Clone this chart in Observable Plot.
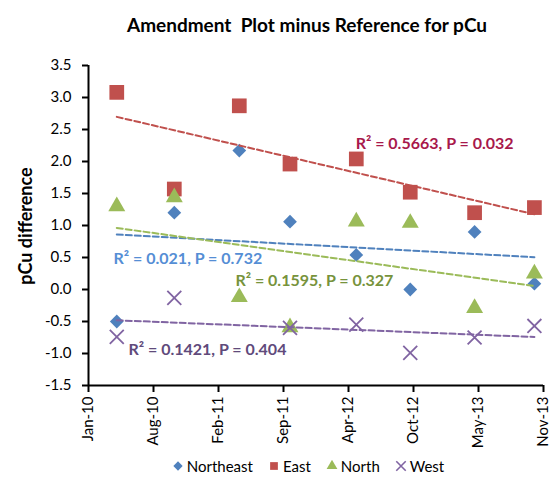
<!DOCTYPE html>
<html>
<head>
<meta charset="utf-8">
<script src="https://cdn.jsdelivr.net/npm/d3@7"></script>
<script src="https://cdn.jsdelivr.net/npm/@observablehq/plot@0.6"></script>
<style>
  html, body { margin: 0; padding: 0; background: #fff; }
  #wrap { position: relative; width: 555px; height: 496px; overflow: hidden; font-family: Lato, "Open Sans", sans-serif; }
  #title { position: absolute; left: 0; top: 13px; width: 614px; text-align: center; font-weight: bold; font-size: 19px; color: #000; z-index: 2; }
  #ylabel { position: absolute; left: 25px; top: 226px; transform: translate(-50%, -50%) rotate(-90deg); white-space: nowrap; font-weight: bold; font-size: 18px; color: #000; z-index: 2; }
  #chart { position: absolute; left: 0; top: 50px; z-index: 1; }
  #legend { position: absolute; left: 0; top: 457px; width: 616px; display: flex; justify-content: center; gap: 15px; font-size: 15px; color: #000; z-index: 2; }
  #legend span { display: inline-flex; align-items: center; gap: 3px; }
</style>
</head>
<body>
<div id="wrap">
  <div id="chart"></div>
  <div id="title">Amendment&nbsp; Plot minus Reference for pCu</div>
  <div id="ylabel">pCu difference</div>
  <div id="legend"></div>
</div>
<script>
// ---- data ----
const dates = ["2010-04-20", "2010-10-14", "2011-05-02", "2011-10-05", "2012-04-26", "2012-10-09", "2013-04-25", "2013-10-26"];
const seriesNames = ["Northeast", "East", "North", "West"];
const northeast = [-0.50, 1.20, 2.17, 1.06, 0.54, 0.00, 0.90, 0.09];
const east      = [3.08, 1.57, 2.87, 1.96, 2.04, 1.52, 1.20, 1.28];
const north     = [1.30, 1.44, -0.12, -0.59, 1.06, 1.04, -0.29, 0.25];
const west      = [-0.74, -0.13, null, -0.60, -0.55, -0.99, -0.75, -0.57];
const seriesColors = ["#4F81BD", "#C0504D", "#9BBB59", "#8064A2"];
const seriesSymbols = ["diamond2", "square", "triangle", "times"];
const statLabels = ["R\u00B2 = 0.021, P = 0.732", "R\u00B2 = 0.5663, P = 0.032", "R\u00B2 = 0.1595, P = 0.327", "R\u00B2 = 0.1421, P = 0.404"];
const statColors = ["#558ED5", "#A8184B", "#77933C", "#604A7B"];
const statDates = ["2010-04-10", "2012-04-24", "2011-04-20", "2010-05-26"];
const statValues = [0.48, 2.28, 0.14, -0.95];
const xTicks = ["2010-01-23", "2010-08-11", "2011-02-27", "2011-09-15", "2012-04-02", "2012-10-19", "2013-05-07", "2013-11-23"];
const yTicks = [-1.5, -1.0, -0.5, 0.0, 0.5, 1.0, 1.5, 2.0, 2.5, 3.0, 3.5];

// ---- build tables ----
const allValues = [northeast, east, north, west];
const rows = [];
allValues.forEach((vals, s) => vals.forEach((v, i) => {
  if (v != null) rows.push({series: seriesNames[s], date: new Date(dates[i]), value: v});
}));

// least-squares trend lines from the data
const trendRows = [];
seriesNames.forEach((name) => {
  const pts = rows.filter(d => d.series === name);
  const xs = pts.map(d => +d.date), ys = pts.map(d => d.value);
  const mx = d3.mean(xs), my = d3.mean(ys);
  const sxy = d3.sum(xs, (x, i) => (x - mx) * (ys[i] - my));
  const sxx = d3.sum(xs, x => (x - mx) ** 2);
  const b = sxy / sxx, a = my - b * mx;
  const [x0, x1] = d3.extent(xs);
  trendRows.push({series: name, date: new Date(x0), value: a + b * x0});
  trendRows.push({series: name, date: new Date(x1), value: a + b * x1});
});

const labels = statLabels.map((t, i) => ({text: t, color: statColors[i], date: new Date(statDates[i]), value: statValues[i]}));

const xDomain = [new Date(xTicks[0]), new Date(xTicks[xTicks.length - 1])];
const fmt = d3.utcFormat("%b-%y");

const marks = [];
seriesNames.forEach((name, s) => {
  const data = rows.filter(d => d.series === name);
  const sym = seriesSymbols[s];
  const r = sym === "square" ? 8.3 : sym === "diamond2" ? 6.2 : sym === "triangle" ? 6.3 : 6.4;
  if (sym === "times") {
    marks.push(Plot.dot(data, {x: "date", y: "value", symbol: () => sym, r, stroke: seriesColors[s], strokeWidth: 1.8, fill: "none"}));
  } else {
    marks.push(Plot.dot(data, {x: "date", y: "value", symbol: () => sym, r, fill: seriesColors[s], stroke: "none"}));
  }
});
seriesNames.forEach((name, s) => {
  marks.push(Plot.line(trendRows.filter(d => d.series === name), {
    x: "date", y: "value", stroke: seriesColors[s], strokeWidth: 2, strokeDasharray: "6,3"
  }));
});

const chart = Plot.plot({
  width: 555,
  height: 405,
  marginLeft: 88,
  marginRight: 12,
  marginTop: 15,
  marginBottom: 70,
  style: {fontFamily: "Lato, 'Open Sans', sans-serif", fontSize: "15px", color: "#000", background: "#fff"},
  x: {type: "utc", domain: xDomain},
  y: {domain: [-1.5, 3.5]},
  symbol: {type: "identity"},
  marks: [
    Plot.axisY({ticks: yTicks, tickFormat: d => d.toFixed(1), tickSize: 6, tickPadding: 11, strokeWidth: 2, label: null, fontSize: 15}),
    Plot.axisX({ticks: xTicks.map(d => new Date(d)), tickFormat: fmt, tickSize: 7, tickPadding: 4, tickRotate: -90, strokeWidth: 2, label: null, fontSize: 15}),
    ...marks,
    Plot.ruleX([xDomain[0]], {stroke: "#000", strokeWidth: 2}),
    Plot.ruleY([-1.5], {stroke: "#000", strokeWidth: 2}),
    Plot.text(labels, {x: "date", y: "value", text: "text", fill: "color", textAnchor: "start", fontWeight: "bold", fontSize: 16})
  ]
});
document.getElementById("chart").appendChild(chart);

// ---- legend ----
const legend = d3.select("#legend");
const iconPaths = {
  diamond2: d3.symbol(d3.symbolDiamond2, 55)(),
  square: d3.symbol(d3.symbolSquare, 60)(),
  triangle: d3.symbol(d3.symbolTriangle, 50)(),
  times: d3.symbol(d3.symbolTimes, 60)()
};
seriesNames.forEach((name, s) => {
  const item = legend.append("span");
  const svg = item.append("svg").attr("width", 12).attr("height", 12).attr("viewBox", "-6 -6 12 12");
  const sym = seriesSymbols[s];
  svg.append("path").attr("d", iconPaths[sym])
    .attr("fill", sym === "times" ? "none" : seriesColors[s])
    .attr("stroke", sym === "times" ? seriesColors[s] : "none")
    .attr("stroke-width", 1.6);
  item.append("span").text(name);
});
</script>
</body>
</html>
